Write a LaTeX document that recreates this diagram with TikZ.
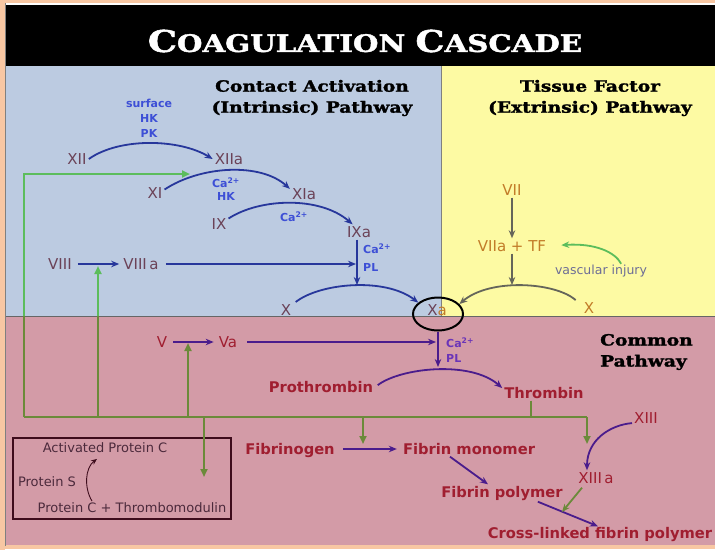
\documentclass[tikz,border=0pt]{standalone}
\usepackage{fontspec}
\setmainfont{DejaVu Sans}
\newfontfamily\hdfont{DejaVu Serif}
\newfontfamily\hdheavy[FakeBold=1.6]{DejaVu Serif Bold}
\usetikzlibrary{arrows.meta,calc,shapes.geometric}

\definecolor{peach}{HTML}{F8C7A3}
\definecolor{bluebg}{HTML}{BCCBE1}
\definecolor{yellowbg}{HTML}{FDFAA3}
\definecolor{pinkbg}{HTML}{D39BA7}
\definecolor{facc}{HTML}{6B4257}
\definecolor{bluet}{HTML}{3D4FD6}
\definecolor{arrc}{HTML}{27379B}
\definecolor{extc}{HTML}{C27C28}
\definecolor{extarr}{HTML}{65655A}
\definecolor{vascc}{HTML}{6D6D96}
\definecolor{gbright}{HTML}{5CBD5C}
\definecolor{golive}{HTML}{6B8A3A}
\definecolor{parr}{HTML}{4A1C8C}
\definecolor{purplet}{HTML}{6A34B8}
\definecolor{redc}{HTML}{A01E30}
\definecolor{boxc}{HTML}{3E0C1C}
\definecolor{boxt}{HTML}{4C2A3C}

% widened heading line
\newcommand\wide[1]{\scalebox{1.2}[1]{#1}}
% title lettering in small capitals
\newcommand\titletext{\fontsize{30}{30}\selectfont C\fontsize{24}{24}\selectfont OAGULATION \fontsize{30}{30}\selectfont C\fontsize{24}{24}\selectfont ASCADE}

% feedback network of thrombin, drawn in a given colour
\newcommand\greennet[1]{%
  \draw[#1, line width=2.4pt, line join=miter] (bL) -- (bR);
  \draw[#1, line width=2.4pt, -{Triangle[length=8pt,width=7pt]}] (bL) |- (gXI);
  \draw[#1, line width=2.4pt, -{Triangle[length=8pt,width=7pt]}] (b98) -- (g8);
  \draw[#1, line width=2.4pt, -{Triangle[length=8pt,width=7pt]}] (b188) -- (gV);
  \draw[#1, line width=2.4pt, -{Triangle[length=8pt,width=7pt]}] (b204) -- (gBox);
  \draw[#1, line width=2.4pt, -{Triangle[length=8pt,width=7pt]}] (b363) -- (gFb);
  \draw[#1, line width=2.4pt, -{Triangle[length=8pt,width=7pt]}] (bR) -- (gXIII);
  \draw[#1, line width=2.4pt] (thr.south -| b531) -- (b531);
}

\begin{document}
\begin{tikzpicture}[x=1pt,y=-1pt,
  fac/.style={text=facc, font=\fontsize{15}{18}\selectfont, inner sep=2pt, text height=11pt, text depth=0pt},
  ext/.style={fac, text=extc},
  com/.style={text=redc, font=\bfseries\fontsize{14.7}{17}\selectfont, inner sep=2pt, text height=11pt, text depth=0pt},
  cof/.style={text=bluet, font=\bfseries\fontsize{11}{15}\selectfont, inner sep=0pt, align=center},
  boxlbl/.style={text=boxt, font=\fontsize{13}{15}\selectfont, inner sep=2pt, text height=9.5pt, text depth=0pt},
  hdr/.style={font=\hdheavy\fontsize{15.5}{21}\selectfont, align=center, inner sep=0pt},
  barr/.style={draw=arrc, line width=1.8pt, -{Stealth[length=8pt,width=6.5pt]}},
  garr/.style={draw=extarr, line width=1.8pt, -{Stealth[length=8pt,width=6.5pt]}},
  parrow/.style={draw=parr, line width=1.8pt, -{Stealth[length=8pt,width=6.5pt]}},
]
\useasboundingbox (0,0) rectangle (715,555);

% ---------- panels ----------
\fill[white] (0,0) rectangle (715,555);
\fill[peach] (0,0) rectangle (715,3);
\fill[peach] (0,0) rectangle (5,550);
\fill[peach] (0,545) rectangle (715,549);
\fill[black] (6,5) rectangle (715,66);
\fill[bluebg] (6,66) rectangle (441,316);
\fill[yellowbg] (441,66) rectangle (715,316);
\fill[pinkbg] (6,316) rectangle (715,545);
\draw[gray, line width=0.8pt] (441,66) -- (441,316);
\draw[gray!80!black, line width=0.8pt] (6,316) -- (715,316);
\draw[gray, line width=1pt] (5.5,3) -- (5.5,546);

% ---------- title ----------
\node[text=white, font=\hdheavy, inner sep=0pt] (title) at (365,41)
  {\scalebox{1.22}[1]{\titletext}};

% ---------- headings ----------
\node[hdr] (hintr) at (312,98) {\wide{Contact Activation}\\\wide{(Intrinsic) Pathway}};
\node[hdr] (hextr) at (590,98) {\wide{Tissue Factor}\\\wide{(Extrinsic) Pathway}};
\node[hdr, align=left, anchor=west] (hcomm) at (600,352) {\wide{Common}\\\wide{Pathway}};

% ---------- intrinsic pathway ----------
\node[fac] (xii)   at (77,159)  {XII};
\node[fac] (xiia)  at (229,159) {XIIa};
\node[fac] (xi)    at (155,193) {XI};
\node[fac] (xia)   at (304,194) {XIa};
\node[fac] (ix)    at (219,224) {IX};
\node[fac] (ixa)   at (359,232) {IXa};
\node[fac] (viii)  at (60,264)  {VIII};
\node[fac] (viiia) at (141,264) {VIII\,a};
\node[fac] (xl)    at (286,310) {X};
\node[fac] (xa)    at (437,310) {X\textcolor{extc}{a}};
\node[draw=black, ellipse, line width=2pt, minimum width=50, minimum height=33, inner sep=0pt] (ring) at (438,314) {};

\node[cof] (cofa) at (149,118) {surface\\HK\\PK};
\node[cof, font=\bfseries\fontsize{11}{13}\selectfont] (cofb) at (226,189) {Ca\textsuperscript{2+}\\HK};
\node[cof] (cofc) at (294,217) {Ca\textsuperscript{2+}};
\node[cof, anchor=west, align=left, font=\bfseries\fontsize{11}{18}\selectfont] (cofd) at (363,258) {Ca\textsuperscript{2+}\\PL};

\coordinate (xpk) at (357,285);
\coordinate (ixv) at (356,264);

\draw[barr] (xii.east) .. controls (120,137) and (180,139) .. (xiia.west);
\draw[barr] (xi.20) .. controls (200,166) and (260,162) .. (xia.160);
\draw[barr] (ix.30) .. controls (260,198) and (320,196) .. (ixa.130);
\draw[barr] (ixa.south -| xpk) -- (xpk);
\draw[barr, shorten <=4pt, shorten >=2pt] (viii.east) -- (viiia.west);
\draw[barr, shorten <=5pt] (viiia.east) -- (ixv);
\draw[barr, shorten <=3pt] (xl.40) .. controls (320,283) and (385,277) .. (ring.150);

% ---------- extrinsic pathway ----------
\node[ext] (vii)  at (512,190) {VII};
\node[ext] (viia) at (512,246) {VIIa + TF};
\node[ext] (xr)   at (589,308) {X};
\node[text=vascc, font=\fontsize{12.5}{15}\selectfont, inner sep=2pt] (vasc) at (601,271) {vascular injury};
\coordinate (xrpk) at (512,285);

\draw[garr] (vii.south) -- (viia.north);
\draw[garr] (viia.south) -- (xrpk);
\draw[garr, shorten <=8pt] (xr.160) .. controls (555,282) and (490,278) .. (ring.25);
\draw[draw=gbright, line width=1.8pt, -{Stealth[length=8pt,width=6.5pt]}, shorten >=13pt]
  ($(vasc.north east)+(-28,1)$) .. controls (615,252) and (595,243) .. (viia.east);

% ---------- common pathway ----------
\node[com, font=\fontsize{15}{18}\selectfont] (v)  at (162,342) {V};
\node[com, font=\fontsize{15}{18}\selectfont] (va) at (228,342) {Va};
\node[com] (prot)  at (321,387) {Prothrombin};
\node[com] (thr)   at (544,393) {Thrombin};
\node[com] (fbg)   at (290,449) {Fibrinogen};
\node[com] (fbm)   at (469,449) {Fibrin monomer};
\node[com] (fbp)   at (502,492) {Fibrin polymer};
\node[com] (cross) at (600,533) {Cross-linked fibrin polymer};
\node[fac, text=redc] (xiii)  at (646,418) {XIII};
\node[fac, text=redc] (xiiia) at (596,478) {XIII\,a};
\node[cof, text=purplet, anchor=west, align=left] (cofe) at (446,350) {Ca\textsuperscript{2+}\\PL};

\coordinate (xav) at (436,342);
\coordinate (ppk) at (438,367);
\coordinate (gx)  at (562,512);

\draw[parrow, shorten <=4pt, shorten >=3pt] (v.east) -- (va.west);
\draw[parrow, shorten <=8pt] (va.east) -- (xav);
\draw[parrow] (ring.south) -- (ppk);
\draw[parrow, shorten <=3pt] (prot.east) .. controls (400,368) and (470,360) .. ($(thr.west)+(0,-5)$);
\draw[parrow, shorten <=6pt, shorten >=4pt] (fbg.east) -- (fbm.west);
\draw[parrow] ($(fbm.south)+(-19,0)$) -- ($(fbp.north)+(-14,0)$);
\draw[parrow] ($(fbp.south east)+(-27,2)$) -- ($(cross.north)+(-2,1)$);
\draw[parrow] (xiii.200) .. controls (610,425) and (587,440) .. ($(xiiia.north)+(-9,0)$);
\draw[draw=golive, line width=1.8pt, -{Stealth[length=8pt,width=6.5pt]}] ($(xiiia.south)+(-14,2)$) -- (gx);

% ---------- protein C box ----------
\node[draw=boxc, line width=2pt, minimum width=218, minimum height=81, inner sep=0pt] (pcbox) at (122,478.5) {};
\node[boxlbl] (apc)  at (105,448) {Activated Protein C};
\node[boxlbl] (ps)   at (47,482)  {Protein S};
\node[boxlbl] (pctm) at (132,508) {Protein C + Thrombomodulin};
\draw[draw=boxc, line width=0.9pt, -{Stealth[length=6pt,width=5pt]}]
  ($(pctm.north)+(-40,0)$) .. controls (84,488) and (85,468) .. ($(apc.south)+(-8,4)$);

% ---------- thrombin feedback ----------
\coordinate (bL)    at (24,417);
\coordinate (bR)    at (587,417);
\coordinate (b98)   at (98,417);
\coordinate (b188)  at (188,417);
\coordinate (b204)  at (204,417);
\coordinate (b363)  at (363,417);
\coordinate (b531)  at (531,417);
\coordinate (gXI)   at (190,174);
\coordinate (g8)    at (98,266);
\coordinate (gV)    at (188,343);
\coordinate (gBox)  at (204,477);
\coordinate (gFb)   at (363,444);
\coordinate (gXIII) at (587,444);

\begin{scope}
  \clip (0,0) rectangle (715,316);
  \greennet{gbright}
\end{scope}
\begin{scope}
  \clip (0,316) rectangle (715,555);
  \greennet{golive}
\end{scope}
\end{tikzpicture}
\end{document}
